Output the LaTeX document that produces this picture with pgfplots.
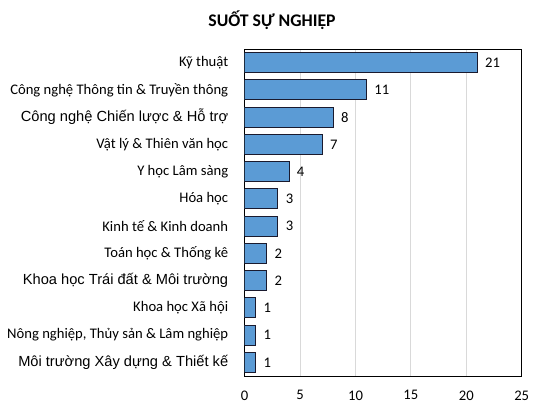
\documentclass[border=0pt]{standalone}
\usepackage{fontspec}
\setmainfont{Carlito}
\newfontfamily\arialfont{Liberation Sans}
\usepackage{pgfplots}
\pgfplotsset{compat=1.18}
\definecolor{barblue}{HTML}{5B9BD5}
\definecolor{baredge}{HTML}{1A1A2E}
\definecolor{gridgray}{HTML}{D9D9D9}

\begin{document}
\begin{tikzpicture}
\useasboundingbox (-244.7bp,-37bp) rectangle (299.3bp,376bp);
\begin{axis}[
  at={(0,0)}, anchor=south west,
  scale only axis,
  width=277bp, height=327bp,
  xbar, bar width=20bp,
  y dir=reverse,
  xmin=0, xmax=25,
  ymin=-0.5, ymax=11.5,
  xtick={0,5,10,15,20,25},
  ytick={0,...,11},
  yticklabels={
    {Kỹ thuật},
    {Công nghệ Thông tin \& Truyền thông},
    {\arialfont Công nghệ Chiến lược \& Hỗ trợ},
    {Vật lý \& Thiên văn học},
    {Y học Lâm sàng},
    {Hóa học},
    {Kinh tế \& Kinh doanh},
    {Toán học \& Thống kê},
    {\arialfont Khoa học Trái đất \& Môi trường},
    {Khoa học Xã hội},
    {Nông nghiệp, Thủy sản \& Lâm nghiệp},
    {\arialfont Môi trường Xây dựng \& Thiết kế}},
  major tick length=0pt,
  xmajorgrids=true,
  grid style={gridgray, line width=0.9pt},
  axis line style={black, line width=0.9pt},
  tick label style={font=\fontsize{14.7}{16}\selectfont},
  /pgf/number format/assume math mode=true,
  xticklabel style={yshift=-11bp},
  yticklabel style={xshift=-13bp},
  nodes near coords,
  nodes near coords style={font=\fontsize{14.7}{16}\selectfont, anchor=west, xshift=4bp},
]
\addplot[fill=barblue, draw=baredge, line width=1pt] coordinates {
  (21,0) (11,1) (8,2) (7,3) (4,4) (3,5) (3,6) (2,7) (2,8) (1,9) (1,10) (1,11)
};
\end{axis}
\node[font=\bfseries\fontsize{17.8}{20}\selectfont] at (27.3bp,356bp) {SUỐT SỰ NGHIỆP};
\end{tikzpicture}
\end{document}
